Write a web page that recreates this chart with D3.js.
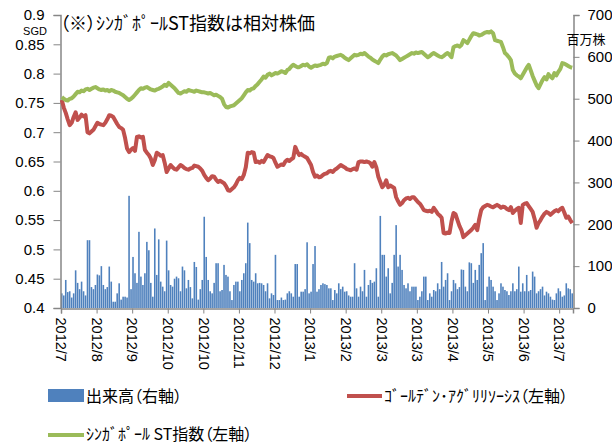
<!DOCTYPE html>
<html lang="ja">
<head>
<meta charset="utf-8">
<script src="https://d3js.org/d3.v7.min.js"></script>
<style>
  body { margin: 0; background: #fff; }
  text { font-family: "Liberation Sans", Arial, sans-serif; fill: #000; }
  .jp { font-family: "Noto Sans CJK JP", sans-serif; font-feature-settings: "palt"; }
  .axis path, .axis line { stroke: #868686; }
</style>
</head>
<body>
<script>
// tick labels for the category axis (one every 18 trading days)
var tickLabels = ["2012/7", "2012/8", "2012/9", "2012/10", "2012/10", "2012/11", "2012/12",
                  "2013/1", "2013/2", "2013/3", "2013/3", "2013/4", "2013/5", "2013/6", "2013/7"];

// trading volume, million shares (right axis)
var volume = [
  35,30,67,38,40,25,35,90,60,45,
  63,40,30,162,162,50,45,55,80,78,
  100,55,45,50,99,63,15,15,35,59,
  20,27,27,25,268,45,122,83,60,182,
  75,55,83,158,138,60,27,190,79,164,
  63,51,40,161,90,55,51,70,75,71,
  40,99,90,47,67,50,23,110,98,20,
  45,67,218,122,67,40,35,60,107,107,
  40,43,103,79,75,40,19,55,63,63,
  40,67,83,107,204,155,67,63,83,59,
  60,59,55,40,59,23,35,31,127,19,
  19,25,19,20,35,40,35,27,105,105,
  27,39,39,45,157,35,39,105,148,39,
  45,55,59,57,55,47,47,19,43,35,
  59,45,51,39,40,30,27,27,107,47,
  27,51,40,91,27,55,67,60,63,95,
  27,220,127,127,75,95,35,60,127,198,
  99,127,91,55,47,59,40,51,51,51,
  19,27,40,75,75,19,35,27,43,40,
  59,45,110,51,67,83,19,40,67,59,
  45,50,92,91,51,40,109,107,60,91,
  67,103,131,155,19,51,75,67,51,40,
  19,35,59,51,43,40,31,40,59,40,
  45,99,39,59,40,79,40,43,87,75,
  35,40,45,51,30,39,35,27,20,19,
  35,47,40,27,30,59,47,45,35
];

// Golden Agri-Resources, SGD (left axis)
var golden = [
  .755,.742,.733,.722,.712,.716,.726,.734,.721,.725,
  .730,.727,.729,.700,.698,.701,.704,.710,.716,.714,
  .713,.712,.716,.722,.729,.728,.726,.720,.714,.709,
  .707,.704,.690,.672,.666,.670,.673,.668,.692,.693,
  .691,.692,.670,.665,.661,.655,.644,.652,.665,.663,
  .660,.661,.648,.632,.638,.644,.640,.637,.636,.640,
  .644,.642,.639,.637,.636,.638,.639,.643,.642,.641,
  .638,.634,.627,.622,.618,.621,.625,.624,.619,.615,
  .617,.615,.613,.608,.601,.600,.603,.606,.611,.618,
  .622,.620,.627,.640,.665,.664,.666,.665,.649,.650,
  .648,.651,.649,.655,.661,.659,.658,.656,.648,.641,
  .643,.645,.644,.650,.653,.651,.654,.656,.675,.667,
  .661,.663,.660,.658,.656,.650,.644,.632,.624,.626,
  .623,.624,.627,.629,.630,.633,.634,.632,.636,.638,
  .641,.644,.642,.640,.637,.636,.635,.637,.638,.636,
  .649,.650,.650,.649,.650,.649,.647,.641,.649,.640,
  .624,.615,.606,.610,.618,.606,.609,.607,.605,.589,
  .582,.576,.579,.584,.587,.588,.586,.589,.589,.585,
  .581,.578,.573,.567,.566,.565,.566,.564,.571,.566,
  .561,.558,.554,.528,.527,.529,.528,.548,.562,.560,
  .550,.540,.533,.521,.524,.527,.530,.533,.537,.542,
  .533,.552,.567,.572,.574,.576,.575,.573,.572,.574,
  .576,.574,.571,.573,.572,.569,.567,.572,.562,.566,
  .569,.571,.545,.576,.578,.579,.574,.569,.564,.552,
  .537,.545,.550,.556,.561,.564,.562,.559,.562,.565,
  .567,.565,.569,.571,.563,.554,.556,.550,.545
];

// Singapore ST index, rebased to the share price (left axis)
var stIndex = [
  .760,.757,.755,.754,.757,.758,.761,.765,.769,.768,
  .771,.770,.773,.774,.772,.774,.776,.777,.775,.773,
  .772,.773,.771,.772,.770,.772,.771,.769,.768,.767,
  .765,.763,.760,.757,.755,.757,.760,.764,.768,.772,
  .775,.774,.776,.777,.775,.773,.772,.771,.773,.774,
  .776,.778,.781,.779,.784,.781,.778,.775,.771,.767,
  .766,.768,.770,.769,.772,.771,.770,.769,.771,.770,
  .769,.768,.768,.767,.766,.767,.765,.763,.764,.762,
  .760,.757,.748,.743,.742,.744,.745,.746,.749,.752,
  .755,.758,.763,.768,.772,.771,.774,.775,.779,.782,
  .786,.790,.795,.793,.798,.800,.797,.799,.801,.800,
  .802,.804,.803,.801,.806,.808,.812,.815,.813,.811,
  .811,.813,.815,.814,.816,.812,.810,.812,.814,.813,
  .814,.815,.817,.816,.818,.827,.828,.826,.829,.830,
  .831,.832,.830,.827,.825,.823,.826,.829,.832,.831,
  .832,.834,.833,.835,.832,.829,.827,.824,.822,.820,
  .818,.824,.829,.832,.831,.833,.834,.835,.833,.831,
  .827,.823,.825,.827,.829,.831,.833,.835,.834,.836,
  .835,.836,.837,.834,.831,.828,.830,.833,.835,.833,
  .831,.829,.828,.830,.833,.835,.832,.828,.845,.847,
  .848,.846,.849,.857,.855,.852,.858,.864,.869,.868,
  .867,.865,.866,.868,.870,.871,.870,.872,.869,.857,
  .856,.855,.854,.845,.835,.832,.828,.823,.806,.800,
  .797,.795,.792,.798,.804,.810,.815,.806,.796,.788,
  .780,.775,.782,.789,.794,.790,.799,.795,.792,.801,
  .797,.803,.808,.818,.817,.815,.813,.811,.810
];

var leftTicks = [0.4, 0.45, 0.5, 0.55, 0.6, 0.65, 0.7, 0.75, 0.8, 0.85, 0.9];
var rightTicks = [0, 100, 200, 300, 400, 500, 600, 700];

var width = 612, height = 444;
var plotL = 61, plotR = 573, plotT = 15, plotB = 308;
var n = volume.length;

var svg = d3.select("body").append("svg")
    .attr("width", width)
    .attr("height", height);

var x = d3.scaleBand().domain(d3.range(n)).range([plotL, plotR]).paddingInner(0.2);
var xEdge = d3.scaleLinear().domain([0, n]).range([plotL, plotR]);
var yL = d3.scaleLinear().domain([0.4, 0.9]).range([plotB, plotT]);
var yR = d3.scaleLinear().domain([0, 700]).range([plotB, plotT]);

// volume bars
svg.append("g").selectAll("rect")
    .data(volume)
    .enter().append("rect")
    .attr("x", function(d, i) { return x(i); })
    .attr("width", x.bandwidth())
    .attr("y", function(d) { return yR(d); })
    .attr("height", function(d) { return plotB - yR(d); })
    .attr("fill", "#4F81BD");

// axes
var gLeft = svg.append("g").attr("class", "axis")
    .attr("transform", "translate(" + (plotL - 0.5) + ",0)")
    .call(d3.axisLeft(yL).tickValues(leftTicks).tickSize(7).tickPadding(9)
          .tickFormat(function(d) { return String(+d.toFixed(2)); }));
var gRight = svg.append("g").attr("class", "axis")
    .attr("transform", "translate(" + (plotR + 0.5) + ",0)")
    .call(d3.axisRight(yR).tickValues(rightTicks).tickSize(6).tickPadding(8));
var gBottom = svg.append("g").attr("class", "axis")
    .attr("transform", "translate(0," + (plotB + 0.5) + ")")
    .call(d3.axisBottom(xEdge).tickValues(d3.range(0, n, 18)).tickSize(5)
          .tickFormat(function(d, i) { return tickLabels[i]; }));

[gLeft, gRight, gBottom].forEach(function(g) {
    g.select(".domain").attr("stroke-width", 1.5);
    g.selectAll("text").style("font-size", "15px").style("font-family", "Liberation Sans, Arial, sans-serif");
});

gBottom.selectAll("text")
    .attr("transform", "rotate(90)")
    .attr("x", 9)
    .attr("y", 0)
    .attr("dy", "0.36em")
    .style("text-anchor", "start")
    .style("font-size", "14.5px");

// lines
var line = function(yScale) {
    return d3.line()
        .x(function(d, i) { return x(i) + x.bandwidth() / 2; })
        .y(function(d) { return yScale(d); });
};

svg.append("path").datum(golden)
    .attr("fill", "none").attr("stroke", "#C0504D").attr("stroke-width", 4)
    .attr("stroke-linejoin", "round").attr("d", line(yL));

svg.append("path").datum(stIndex)
    .attr("fill", "none").attr("stroke", "#9BBB59").attr("stroke-width", 4)
    .attr("stroke-linejoin", "round").attr("d", line(yL));

// titles and unit labels
svg.append("text").attr("class", "jp")
    .attr("x", 60).attr("y", 30)
    .style("font-size", "18px")
    .text("（※）ｼﾝｶﾞﾎﾟｰﾙST指数は相対株価");

svg.append("text")
    .attr("x", 35).attr("y", 35)
    .attr("text-anchor", "middle")
    .style("font-size", "11px")
    .text("SGD");

svg.append("text").attr("class", "jp")
    .attr("x", 586).attr("y", 44)
    .attr("text-anchor", "middle")
    .style("font-size", "13px")
    .text("百万株");

// legend
var legend = svg.append("g");
legend.append("rect")
    .attr("x", 48).attr("y", 389).attr("width", 36).attr("height", 13)
    .attr("fill", "#4F81BD");
legend.append("text").attr("class", "jp")
    .attr("x", 86).attr("y", 402).style("font-size", "16px")
    .text("出来高（右軸）");

legend.append("line")
    .attr("x1", 347).attr("x2", 382).attr("y1", 396).attr("y2", 396)
    .attr("stroke", "#C0504D").attr("stroke-width", 4);
legend.append("text").attr("class", "jp")
    .attr("x", 384).attr("y", 402).style("font-size", "16px")
    .text("ｺﾞｰﾙﾃﾞﾝ･ｱｸﾞﾘﾘｿｰｼｽ（左軸）");

legend.append("line")
    .attr("x1", 48).attr("x2", 84).attr("y1", 435).attr("y2", 435)
    .attr("stroke", "#9BBB59").attr("stroke-width", 4);
legend.append("text").attr("class", "jp")
    .attr("x", 86).attr("y", 440).style("font-size", "16px")
    .text("ｼﾝｶﾞﾎﾟｰﾙ ST指数（左軸）");
</script>
</body>
</html>
